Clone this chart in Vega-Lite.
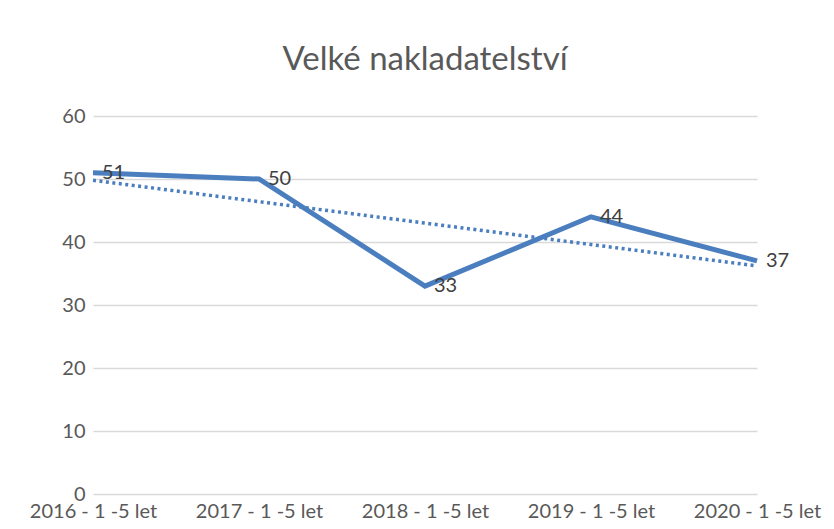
{
  "$schema": "https://vega.github.io/schema/vega-lite/v6.json",
  "width": 664,
  "height": 378,
  "autosize": {"type": "none"},
  "padding": {"left": 93, "top": 116, "right": 77, "bottom": 35},
  "background": "white",
  "config": {"view": {"stroke": null}},
  "title": {
    "text": "Velké nakladatelství",
    "frame": "group",
    "anchor": "middle",
    "baseline": "alphabetic",
    "offset": 3,
    "font": "Lato",
    "fontSize": 33,
    "fontWeight": "normal",
    "color": "#595959"
  },
  "data": {
    "values": [
      {"year": "2016 - 1 -5 let", "value": 51, "trend": 49.8},
      {"year": "2017 - 1 -5 let", "value": 50, "trend": 46.4},
      {"year": "2018 - 1 -5 let", "value": 33, "trend": 43.0},
      {"year": "2019 - 1 -5 let", "value": 44, "trend": 39.6},
      {"year": "2020 - 1 -5 let", "value": 37, "trend": 36.2}
    ]
  },
  "encoding": {
    "x": {
      "field": "year",
      "type": "ordinal",
      "sort": null,
      "scale": {"type": "point", "padding": 0},
      "axis": {
        "title": null,
        "labelAngle": 0,
        "labelFont": "Lato",
        "labelFontSize": 20,
        "labelColor": "#595959",
        "labelPadding": 7,
        "ticks": false,
        "domain": false,
        "grid": false
      }
    }
  },
  "layer": [
    {
      "mark": {"type": "line", "color": "#4A7EBF", "strokeWidth": 5, "strokeJoin": "miter"},
      "encoding": {
        "y": {
          "field": "value",
          "type": "quantitative",
          "scale": {"domain": [0, 60]},
          "axis": {
            "title": null,
            "values": [0, 10, 20, 30, 40, 50, 60],
            "labelFont": "Lato",
            "labelFontSize": 20,
            "labelColor": "#595959",
            "labelPadding": 8,
            "ticks": false,
            "domain": false,
            "gridColor": "#d9d9d9",
            "gridWidth": 1.3
          }
        }
      }
    },
    {
      "mark": {"type": "line", "color": "#4A7EBF", "strokeWidth": 3.5, "strokeDash": [3, 3.5]},
      "encoding": {
        "y": {"field": "trend", "type": "quantitative"}
      }
    },
    {
      "mark": {"type": "text", "align": "left", "baseline": "middle", "dx": 9, "font": "Lato", "fontSize": 20, "color": "#404040"},
      "encoding": {
        "y": {"field": "value", "type": "quantitative"},
        "text": {"field": "value", "type": "quantitative"}
      }
    }
  ]
}
